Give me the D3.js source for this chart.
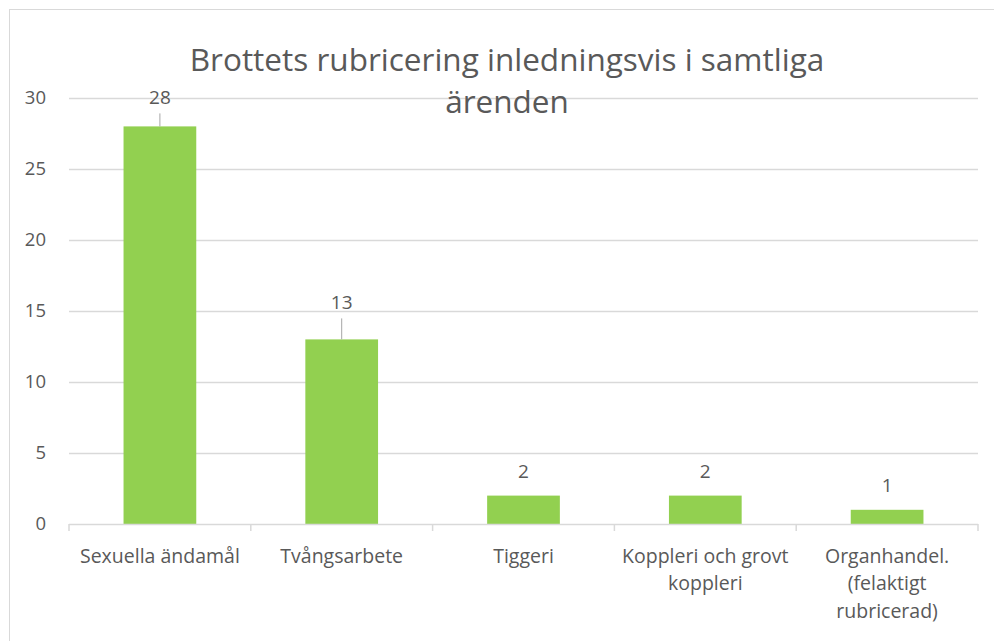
<!DOCTYPE html>
<html>
<head>
<meta charset="utf-8">
<script src="https://cdn.jsdelivr.net/npm/d3@7"></script>
<style>
  body { margin: 0; background: #fff; }
  text { font-family: "Open Sans", "Liberation Sans", sans-serif; fill: #595959; }
</style>
</head>
<body>
<div id="chart"></div>
<script>
const categories = [
  ["Sexuella ändamål"],
  ["Tvångsarbete"],
  ["Tiggeri"],
  ["Koppleri och grovt", "koppleri"],
  ["Organhandel.", "(felaktigt", "rubricerad)"]
];
const values = [28, 13, 2, 2, 1];
const yTicks = [0, 5, 10, 15, 20, 25, 30];
const titleLines = ["Brottets rubricering inledningsvis i samtliga", "ärenden"];

const width = 994, height = 641;
const margin = { left: 69, right: 15, top: 98, bottom: 117 };

const svg = d3.select("#chart").append("svg")
  .attr("width", width)
  .attr("height", height);

// chart border
svg.append("rect")
  .attr("x", 9.5).attr("y", 9.5)
  .attr("width", width + 10).attr("height", height + 10)
  .attr("fill", "none")
  .attr("stroke", "#d9d9d9");

const x = d3.scaleBand()
  .domain(d3.range(values.length))
  .range([margin.left, width - margin.right - 1])
  .paddingInner(0.6)
  .paddingOuter(0.3);

const y = d3.scaleLinear()
  .domain([0, 30])
  .range([height - margin.bottom, margin.top]);

// gridlines
svg.append("g")
  .selectAll("line")
  .data(yTicks.filter(d => d > 0))
  .join("line")
  .attr("x1", margin.left)
  .attr("x2", width - margin.right - 1)
  .attr("y1", d => Math.round(y(d)) + 0.5)
  .attr("y2", d => Math.round(y(d)) + 0.5)
  .attr("stroke", "#d9d9d9")
  .attr("stroke-width", 1.5);

// y tick labels
svg.append("g")
  .selectAll("text")
  .data(yTicks)
  .join("text")
  .attr("x", 46)
  .attr("y", d => y(d))
  .attr("dy", "0.35em")
  .attr("text-anchor", "end")
  .style("font-size", "18.5px")
  .text(d => d);

// bars
svg.append("g")
  .selectAll("rect")
  .data(values)
  .join("rect")
  .attr("x", (d, i) => x(i))
  .attr("width", x.bandwidth())
  .attr("y", d => y(d))
  .attr("height", d => y(0) - y(d))
  .attr("fill", "#92d050");

// x axis line and ticks
const x0 = margin.left, x1 = width - margin.right - 1;
svg.append("line")
  .attr("x1", x0).attr("x2", x1)
  .attr("y1", y(0) + 0.5).attr("y2", y(0) + 0.5)
  .attr("stroke", "#d9d9d9").attr("stroke-width", 1.5);
svg.append("g")
  .selectAll("line")
  .data(d3.range(values.length + 1))
  .join("line")
  .attr("x1", i => x0 + i * (x1 - x0) / values.length)
  .attr("x2", i => x0 + i * (x1 - x0) / values.length)
  .attr("y1", y(0))
  .attr("y2", y(0) + 7)
  .attr("stroke", "#d9d9d9").attr("stroke-width", 1.5);

// category labels
svg.append("g")
  .selectAll("text")
  .data(categories)
  .join("text")
  .attr("x", (d, i) => x(i) + x.bandwidth() / 2)
  .attr("y", 556)
  .attr("text-anchor", "middle")
  .style("font-size", "19.5px")
  .each(function(lines) {
    d3.select(this).selectAll("tspan")
      .data(lines)
      .join("tspan")
      .attr("x", d3.select(this).attr("x"))
      .attr("dy", (l, j) => j === 0 ? "0.35em" : "27.5px")
      .text(l => l);
  });

// data labels; the two tall bars have their labels pulled up with a leader line
const lifted = { 0: 5, 1: 13 };
const labels = svg.append("g");
values.forEach((v, i) => {
  const cx = x(i) + x.bandwidth() / 2;
  const lift = lifted[i] || 0;
  const ly = y(v) - 24 - lift;
  if (lift) {
    labels.append("line")
      .attr("x1", cx).attr("x2", cx)
      .attr("y1", y(v)).attr("y2", ly + 16)
      .attr("stroke", "#a6a6a6").attr("stroke-width", 1);
  }
  labels.append("text")
    .attr("x", cx)
    .attr("y", ly)
    .attr("dy", "0.35em")
    .attr("text-anchor", "middle")
    .style("font-size", "19px")
    .text(v);
});

// title
svg.append("g")
  .selectAll("text")
  .data(titleLines)
  .join("text")
  .attr("x", 507)
  .attr("y", (d, i) => 60 + i * 42)
  .attr("dy", "0.35em")
  .attr("text-anchor", "middle")
  .style("font-size", "31.5px")
  .text(d => d);
</script>
</body>
</html>
